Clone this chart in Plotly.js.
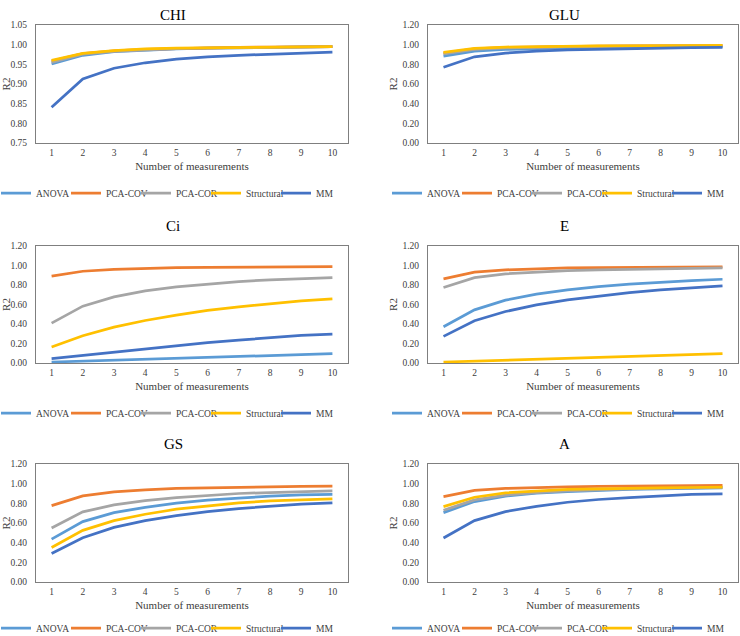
<!DOCTYPE html>
<html>
<head>
<meta charset="utf-8">
<script src="https://cdn.plot.ly/plotly-3.0.1.min.js"></script>
<style>html,body{margin:0;padding:0;background:#fff;}#chart{width:740px;height:636px;}</style>
</head>
<body>
<div id="chart"></div>
<script>
var measurements = [1, 2, 3, 4, 5, 6, 7, 8, 9, 10];
var methods = ["ANOVA", "PCA-COV", "PCA-COR", "Structural", "MM"];
var panelNames = ["CHI", "GLU", "Ci", "E", "GS", "A"];

var CHI_ANOVA = [0.951, 0.973, 0.982, 0.986, 0.989, 0.991, 0.992, 0.993, 0.994, 0.995];
var CHI_PCACOV = [0.958, 0.977, 0.984, 0.988, 0.990, 0.992, 0.993, 0.994, 0.994, 0.995];
var CHI_PCACOR = [0.955, 0.976, 0.983, 0.987, 0.990, 0.991, 0.992, 0.993, 0.994, 0.995];
var CHI_STRUCT = [0.960, 0.978, 0.985, 0.989, 0.991, 0.992, 0.993, 0.994, 0.994, 0.995];
var CHI_MM = [0.841, 0.913, 0.940, 0.954, 0.963, 0.969, 0.973, 0.976, 0.978, 0.981];

var GLU_ANOVA = [0.884, 0.935, 0.952, 0.962, 0.968, 0.972, 0.975, 0.977, 0.979, 0.980];
var GLU_PCACOV = [0.915, 0.958, 0.972, 0.979, 0.983, 0.986, 0.988, 0.989, 0.990, 0.991];
var GLU_PCACOR = [0.905, 0.951, 0.967, 0.975, 0.980, 0.983, 0.985, 0.987, 0.988, 0.989];
var GLU_STRUCT = [0.921, 0.962, 0.976, 0.982, 0.985, 0.987, 0.989, 0.990, 0.991, 0.992];
var GLU_MM = [0.771, 0.877, 0.914, 0.935, 0.948, 0.955, 0.962, 0.965, 0.969, 0.972];

var CI_ANOVA = [0.010, 0.020, 0.028, 0.038, 0.048, 0.058, 0.066, 0.075, 0.085, 0.095];
var CI_PCACOV = [0.890, 0.941, 0.961, 0.971, 0.977, 0.981, 0.984, 0.986, 0.988, 0.989];
var CI_PCACOR = [0.409, 0.583, 0.678, 0.740, 0.781, 0.811, 0.835, 0.853, 0.867, 0.876];
var CI_STRUCT = [0.164, 0.280, 0.368, 0.436, 0.491, 0.539, 0.576, 0.610, 0.637, 0.658];
var CI_MM = [0.044, 0.078, 0.113, 0.147, 0.177, 0.208, 0.235, 0.262, 0.284, 0.297];

var E_ANOVA = [0.372, 0.545, 0.644, 0.706, 0.750, 0.784, 0.808, 0.828, 0.845, 0.859];
var E_PCACOV = [0.862, 0.931, 0.955, 0.968, 0.975, 0.979, 0.982, 0.984, 0.986, 0.987];
var E_PCACOR = [0.774, 0.876, 0.914, 0.934, 0.948, 0.955, 0.961, 0.965, 0.968, 0.975];
var E_STRUCT = [0.010, 0.020, 0.031, 0.041, 0.051, 0.061, 0.072, 0.078, 0.085, 0.095];
var E_MM = [0.273, 0.433, 0.528, 0.597, 0.648, 0.689, 0.723, 0.750, 0.771, 0.791];

var GS_ANOVA = [0.436, 0.614, 0.706, 0.760, 0.801, 0.832, 0.852, 0.873, 0.886, 0.890];
var GS_PCACOV = [0.777, 0.876, 0.917, 0.938, 0.951, 0.958, 0.965, 0.968, 0.972, 0.974];
var GS_PCACOR = [0.549, 0.713, 0.784, 0.828, 0.859, 0.883, 0.900, 0.910, 0.920, 0.927];
var GS_STRUCT = [0.351, 0.525, 0.624, 0.689, 0.740, 0.774, 0.805, 0.825, 0.839, 0.846];
var GS_MM = [0.290, 0.450, 0.556, 0.624, 0.675, 0.716, 0.747, 0.770, 0.791, 0.805];

var A_ANOVA = [0.706, 0.818, 0.873, 0.903, 0.920, 0.932, 0.941, 0.948, 0.953, 0.958];
var A_PCACOV = [0.869, 0.931, 0.951, 0.961, 0.968, 0.973, 0.976, 0.979, 0.981, 0.982];
var A_PCACOR = [0.729, 0.835, 0.883, 0.910, 0.927, 0.938, 0.946, 0.952, 0.957, 0.961];
var A_STRUCT = [0.767, 0.862, 0.907, 0.927, 0.941, 0.948, 0.955, 0.958, 0.961, 0.965];
var A_MM = [0.447, 0.624, 0.716, 0.770, 0.811, 0.839, 0.859, 0.876, 0.890, 0.897];

var CHI_TICKS = [0.75, 0.80, 0.85, 0.90, 0.95, 1.00, 1.05];
var STD_TICKS = [0.00, 0.20, 0.40, 0.60, 0.80, 1.00, 1.20];

var panelData = [
  [CHI_ANOVA, CHI_PCACOV, CHI_PCACOR, CHI_STRUCT, CHI_MM],
  [GLU_ANOVA, GLU_PCACOV, GLU_PCACOR, GLU_STRUCT, GLU_MM],
  [CI_ANOVA, CI_PCACOV, CI_PCACOR, CI_STRUCT, CI_MM],
  [E_ANOVA, E_PCACOV, E_PCACOR, E_STRUCT, E_MM],
  [GS_ANOVA, GS_PCACOV, GS_PCACOR, GS_STRUCT, GS_MM],
  [A_ANOVA, A_PCACOV, A_PCACOR, A_STRUCT, A_MM]
];
var panelTicks = [CHI_TICKS, STD_TICKS, STD_TICKS, STD_TICKS, STD_TICKS, STD_TICKS];

var colors = ["#5B9BD5", "#ED7D31", "#A5A5A5", "#FFC000", "#4472C4"];
var W = 740, H = 636;
var FONT = "'Liberation Serif'";
var colDom = [[36 / W, 348 / W], [428 / W, 738 / W]];
var rowPx = [[25, 143], [246, 363], [464, 582]];
var legendPx = [193, 413, 628];
var titlePx = [15, 226, 444];
var colCenter = [171, 562];

var traces = [];
var layout = {
  width: W, height: H,
  margin: {l: 0, r: 0, t: 0, b: 0, autoexpand: false},
  paper_bgcolor: "#ffffff",
  plot_bgcolor: "#ffffff",
  font: {family: FONT, color: "#404040", size: 9.5},
  annotations: [],
  showlegend: true
};

for (var p = 0; p < 6; p++) {
  var col = p % 2, row = Math.floor(p / 2);
  var sfx = p === 0 ? "" : String(p + 1);
  var legendKey = p === 0 ? "legend" : "legend" + (p + 1);
  for (var s = 0; s < methods.length; s++) {
    traces.push({
      type: "scatter", mode: "lines",
      x: measurements, y: panelData[p][s],
      name: methods[s],
      line: {color: colors[s], width: 2.75},
      xaxis: "x" + sfx, yaxis: "y" + sfx,
      legend: legendKey
    });
  }
  var ticks = panelTicks[p];
  layout["xaxis" + sfx] = {
    domain: colDom[col],
    anchor: "y" + sfx,
    range: [0.5, 10.5],
    tickvals: measurements,
    ticktext: measurements.map(String),
    ticks: "", showgrid: false, zeroline: false,
    showline: true, mirror: true, linecolor: "#7F7F7F", linewidth: 1,
    tickfont: {family: FONT, size: 9.5, color: "#404040"},
    ticklabelstandoff: 1,
    title: {text: "Number of measurements", font: {family: FONT, size: 11, color: "#404040"}, standoff: 4},
    automargin: false,
    fixedrange: true
  };
  layout["yaxis" + sfx] = {
    domain: [1 - rowPx[row][1] / H, 1 - rowPx[row][0] / H],
    anchor: "x" + sfx,
    range: [ticks[0], ticks[ticks.length - 1]],
    tickvals: ticks,
    tickformat: ".2f",
    ticks: "", showgrid: false, zeroline: false,
    showline: true, mirror: true, linecolor: "#7F7F7F", linewidth: 1,
    tickfont: {family: FONT, size: 9.5, color: "#404040"},
    ticklabelstandoff: 6,
    title: {text: "R2", font: {family: FONT, size: 11, color: "#404040"}, standoff: 2},
    automargin: false,
    fixedrange: true
  };
  layout[legendKey] = {
    orientation: "h",
    x: colCenter[col] / W, xanchor: "center",
    y: 1 - legendPx[row] / H, yanchor: "middle",
    entrywidth: 25, entrywidthmode: "pixels",
    font: {family: FONT, size: 9.5, color: "#404040"},
    bgcolor: "rgba(0,0,0,0)",
    itemclick: false, itemdoubleclick: false
  };
  layout.annotations.push({
    text: panelNames[p],
    xref: "paper", yref: "paper",
    x: (col === 0 ? 173 : 564) / W, y: 1 - titlePx[row] / H,
    xanchor: "center", yanchor: "middle",
    showarrow: false,
    font: {family: FONT, size: 15, color: "#000000"}
  });
}

Plotly.newPlot("chart", traces, layout, {displayModeBar: false, staticPlot: true});
</script>
</body>
</html>
